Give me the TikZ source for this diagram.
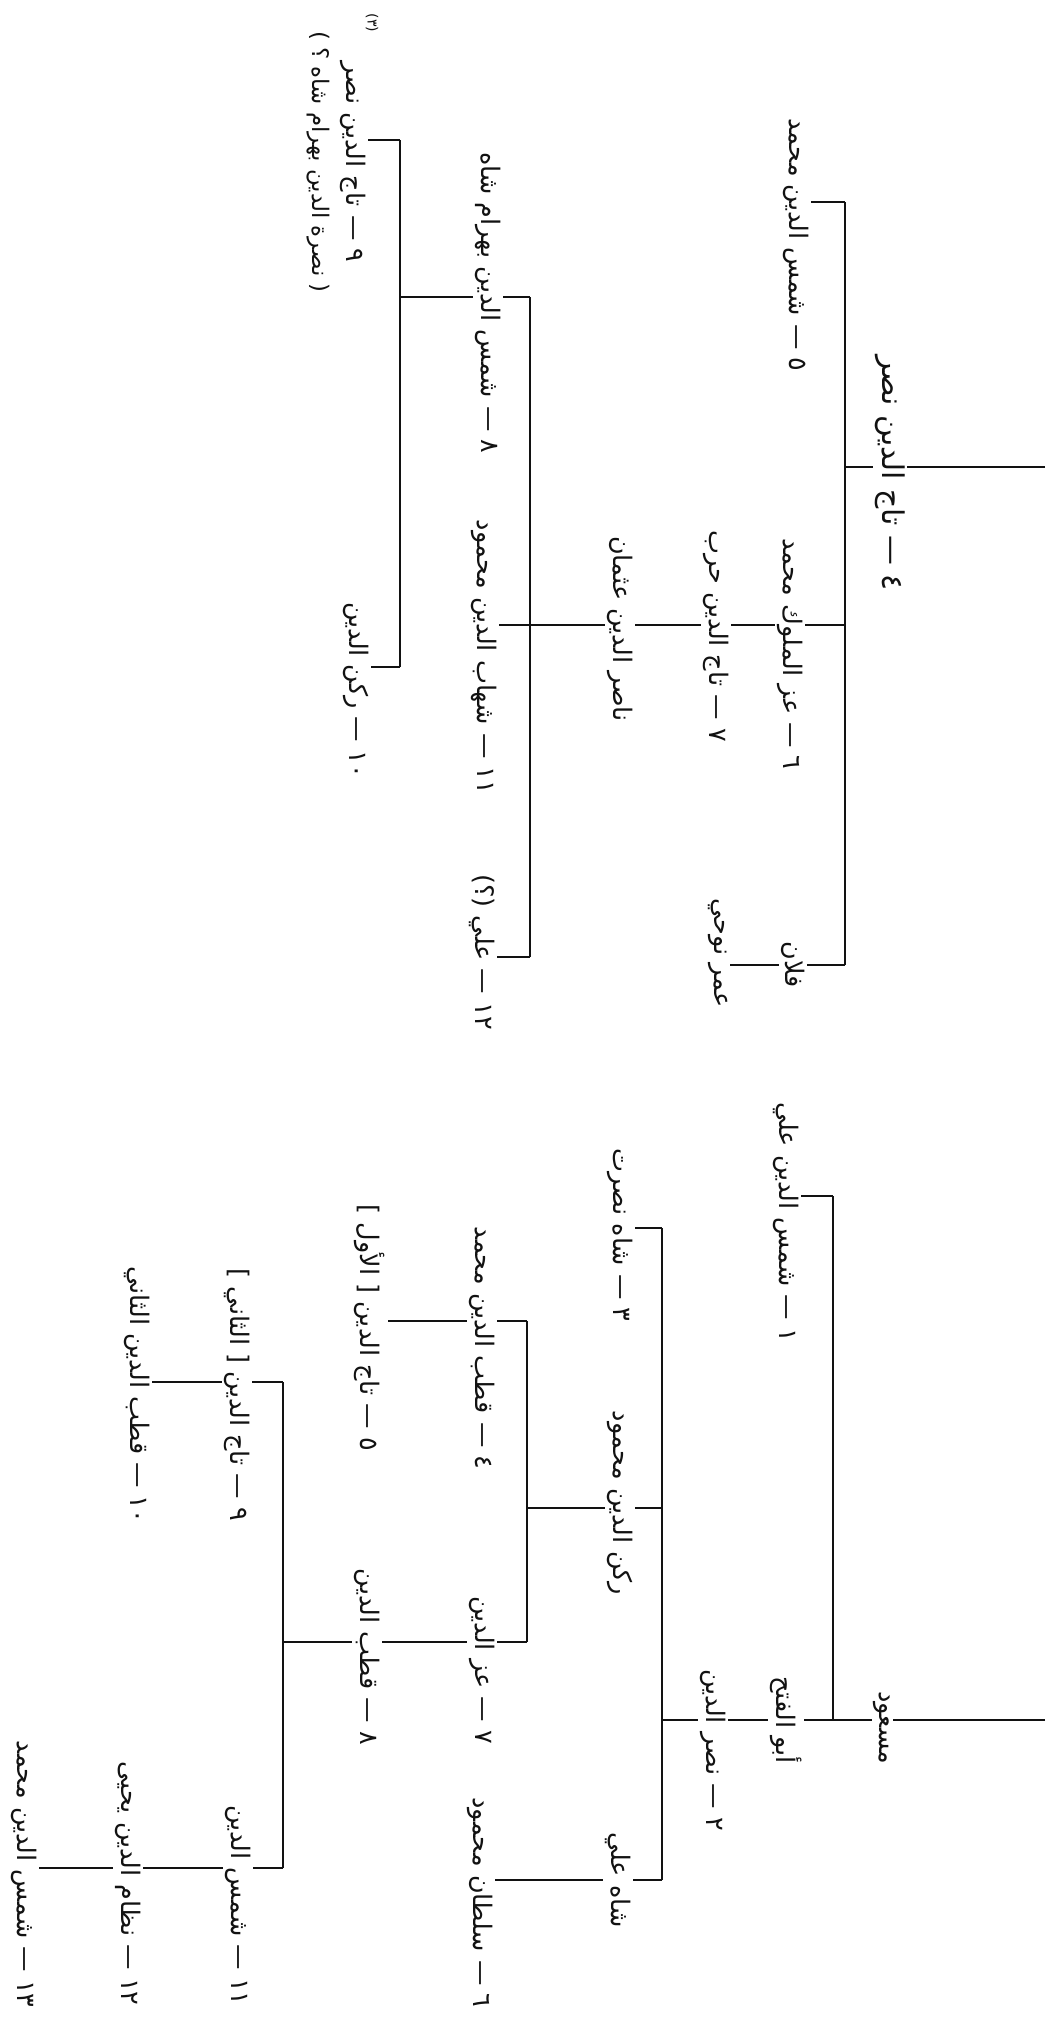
\documentclass[tikz,border=0pt]{standalone}
\usepackage{fontspec}
\newfontfamily\arabicfont[Script=Arabic]{DejaVu Sans}
\newfontfamily\plainfont{DejaVu Sans}
\TeXXeTstate=1
\usetikzlibrary{backgrounds}
\definecolor{inkdark}{RGB}{18,18,18}
\newcommand{\rtl}[1]{\beginR #1\endR}
\newcommand{\pmark}[1]{{\plainfont #1}}
\tikzset{
  person/.style={
    rotate=-90, fill=white, inner sep=1.2pt, text=inkdark,
    font=\arabicfont\fontsize{14.5}{17}\selectfont
  },
  rootname/.style={person, font=\arabicfont\fontsize{17}{20}\selectfont},
  footmark/.style={person, inner sep=0pt, font=\arabicfont\fontsize{8}{10}\selectfont},
  branch/.style={draw=inkdark, line width=1.1pt},
}

\begin{document}
\begin{tikzpicture}[x=0.2mm, y=-0.2mm]
\useasboundingbox (0,0) rectangle (1056,2033);

%% ─── UPPER TREE ─────────────────────────────────────────────
\node[rootname] (t4) at (890,473) {\rtl{٤ — تاج الدين نصر}};
\node[person] (t5) at (796,245) {\rtl{٥ — شمس الدين محمد}};
\node[person] (t6) at (790,654) {\rtl{٦ — عز الملوك محمد}};
\node[person] (fulan) at (793,965) {\rtl{فلان}};
\node[person] (t7) at (716,636) {\rtl{٧ — تاج الدين حرب}};
\node[person] (omar) at (718,953) {\rtl{عمر نوحي}};
\node[person] (nasir) at (620,629) {\rtl{ناصر الدين عثمان}};
\node[person] (t8) at (488,303) {\rtl{٨ — شمس الدين بهرام شاه}};
\node[person] (t11) at (484,657) {\rtl{\beginL ١١\endL{} — شهاب الدين محمود}};
\node[person] (t12) at (482,952) {\rtl{\beginL ١٢\endL{} — علي \pmark{)}؟\pmark{(}}};
\node[person] (t9) at (353,162) {\rtl{٩ — تاج الدين نصر}};
\node[person, font=\arabicfont\fontsize{13}{15}\selectfont] (t9alt) at (318,162)
  {\rtl{\pmark{)} نصرة الدين بهرام شاه ؟ \pmark{(}}};
\node[footmark] (fn3) at (372,23) {\rtl{\pmark{)}٣\pmark{(}}};
\node[person] (t10) at (356,690) {\rtl{\beginL ١٠\endL{} — ركن الدين}};

%% ─── LOWER TREE ─────────────────────────────────────────────
\node[person] (masud) at (882,1728) {\rtl{مسعود}};
\node[person] (abulfath) at (786,1720) {\rtl{أبو الفتح}};
\node[person] (b1) at (786,1222) {\rtl{١ — شمس الدين علي}};
\node[person] (b2) at (713,1750) {\rtl{٢ — نصر الدين}};
\node[person] (b3) at (620,1235) {\rtl{٣ — شاه نصرت}};
\node[person] (rukn) at (620,1503) {\rtl{ركن الدين محمود}};
\node[person] (shahali) at (618,1880) {\rtl{شاه علي}};
\node[person, anchor=east] (b6) at (480,2010) {\rtl{٦ — سلطان محمود}};
\node[person] (b4) at (482,1348) {\rtl{٤ — قطب الدين محمد}};
\node[person] (b5) at (370,1328) {\rtl{٥ — تاج الدين \pmark{]} الأول \pmark{[}}};
\node[person] (b7) at (482,1670) {\rtl{٧ — عز الدين}};
\node[person] (b8) at (367,1657) {\rtl{٨ — قطب الدين}};
\node[person] (b9) at (237,1395) {\rtl{٩ — تاج الدين \pmark{]} الثاني \pmark{[}}};
\node[person] (b10) at (137,1395) {\rtl{\beginL ١٠\endL{} — قطب الدين الثاني}};
\node[person, anchor=east] (b11) at (238,2008) {\rtl{\beginL ١١\endL{} — شمس الدين}};
\node[person, anchor=east] (b12) at (128,2008) {\rtl{\beginL ١٢\endL{} — نظام الدين يحيى}};
\node[person, anchor=east] (b13) at (24,2010) {\rtl{\beginL ١٣\endL{} — شمس الدين محمد}};

%% ─── CONNECTORS ─────────────────────────────────────────────
\begin{scope}[on background layer]
  % upper tree
  \coordinate (rootA) at (1045,467);
  \coordinate (barAtop) at (845,202);
  \coordinate (barAbot) at (845,965);
  \coordinate (midA) at (845,625);
  \coordinate (barBtop) at (530,297);
  \coordinate (barBbot) at (530,957);
  \coordinate (barCtop) at (400,140);
  \coordinate (barCbot) at (400,667);

  \draw[branch] (rootA) -- (rootA -| barAtop);
  \draw[branch] (barAtop) -- (barAbot);
  \draw[branch] (barAtop) -- (barAtop -| t5.north);
  \draw[branch] (midA) -- (midA -| t11.north);
  \draw[branch] (barAbot) -- (barAbot -| omar.north);
  \draw[branch] (barBtop) -- (barBbot);
  \draw[branch] (barBtop) -- (barBtop -| barCtop);
  \draw[branch] (barBbot) -- (barBbot -| t12.north);
  \draw[branch] (barCtop) -- (barCbot);
  \draw[branch] (barCtop) -- (barCtop -| t9.north);
  \draw[branch] (barCbot) -- (barCbot -| t10.north);

  % lower tree
  \coordinate (rootB) at (1045,1720);
  \coordinate (barPtop) at (833,1196);
  \coordinate (barPbot) at (833,1720);
  \coordinate (barQtop) at (662,1228);
  \coordinate (barQbot) at (662,1880);
  \coordinate (midQ) at (662,1508);
  \coordinate (barRtop) at (527,1321);
  \coordinate (barRbot) at (527,1642);
  \coordinate (barStop) at (283,1382);
  \coordinate (barSbot) at (283,1868);

  \draw[branch] (rootB) -- (rootB -| barQtop);
  \draw[branch] (barPtop) -- (barPbot);
  \draw[branch] (barPtop) -- (barPtop -| b1.north);
  \draw[branch] (barQtop) -- (barQbot);
  \draw[branch] (barQtop) -- (barQtop -| b3.north);
  \draw[branch] (midQ) -- (midQ -| barRtop);
  \draw[branch] (barQbot) -- (barQbot -| b6.north);
  \draw[branch] (barRtop) -- (barRbot);
  \draw[branch] (barRtop) -- (barRtop -| b5.north);
  \draw[branch] (barRbot) -- (barRbot -| barStop);
  \draw[branch] (barStop) -- (barSbot);
  \draw[branch] (barStop) -- (barStop -| b10.north);
  \draw[branch] (barSbot) -- (barSbot -| b13.north);
\end{scope}

\end{tikzpicture}
\end{document}
